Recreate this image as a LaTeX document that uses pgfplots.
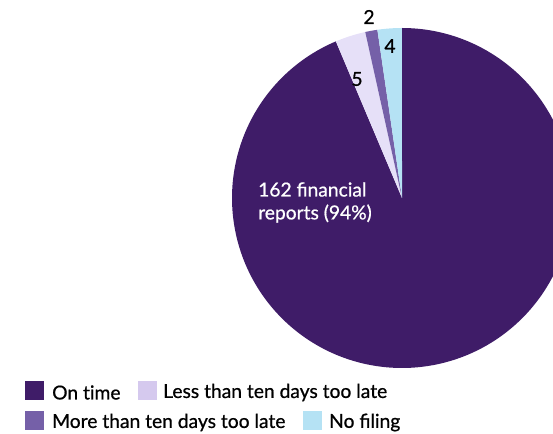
\documentclass[border=0pt]{standalone}
\usepackage{pgfplots}
\pgfplotsset{compat=1.18}
\usepackage{pgfplotstable}
\usepackage{fontspec}
\setmainfont{Lato}[UprightFeatures={FakeBold=0.7}]
\definecolor{ontime}{HTML}{3F1C68}
\definecolor{less}{HTML}{E6E0F8}
\definecolor{lessleg}{HTML}{D5C9EE}
\definecolor{more}{HTML}{7560A8}
\definecolor{nofil}{HTML}{B5E2F4}
% values: on time, less than ten days, more than ten days, no filing
\def\vA{162}\def\vB{5}\def\vC{2}\def\vD{4}
\pgfmathsetmacro\tot{\vA+\vB+\vC+\vD}
\pgfmathsetmacro\aA{90}
\pgfmathsetmacro\aB{\aA-360*(\vA/\tot)}
\pgfmathsetmacro\aC{\aB-360*(\vB/\tot)}
\pgfmathsetmacro\aD{\aC-360*(\vC/\tot)}
\pgfmathsetmacro\aE{\aD-360*(\vD/\tot)}
\pgfmathsetmacro\aCp{\aC+360}
\pgfmathsetmacro\aBp{\aB+360}
\pgfmathsetmacro\aDp{\aD+360}
\pgfmathsetmacro\aEp{\aE+360}
\def\cx{402}\def\cy{236}\def\r{170}
\newcommand\lf{\fontsize{19.3}{23}\selectfont}
\begin{document}
\begin{tikzpicture}
\begin{axis}[
  scale only axis, width=553bp, height=434bp,
  xmin=0, xmax=553, ymin=0, ymax=434,
  hide axis, clip=true,
]
\path (rel axis cs:0,0) rectangle (rel axis cs:1,1);
\addplot[fill=ontime, draw=none, domain=\aB:\aA, samples=300, variable=\t]
  ({\cx+\r*cos(\t)},{\cy+\r*sin(\t)}) -- (axis cs:\cx,\cy) -- cycle;
\addplot[fill=less, draw=none, domain=\aCp:\aBp, samples=30, variable=\t]
  ({\cx+\r*cos(\t)},{\cy+\r*sin(\t)}) -- (axis cs:\cx,\cy) -- cycle;
\addplot[fill=more, draw=none, domain=\aDp:\aCp, samples=20, variable=\t]
  ({\cx+\r*cos(\t)},{\cy+\r*sin(\t)}) -- (axis cs:\cx,\cy) -- cycle;
\addplot[fill=nofil, draw=none, domain=\aEp:\aDp, samples=20, variable=\t]
  ({\cx+\r*cos(\t)},{\cy+\r*sin(\t)}) -- (axis cs:\cx,\cy) -- cycle;
\node[text=white, font=\lf, align=left, anchor=west, inner sep=0pt] at (axis cs:258,231.5) {162 financial\\reports (94\%)};
\node[font=\lf, inner sep=0pt] at (axis cs:357,355) {5};
\node[font=\lf, inner sep=0pt] at (axis cs:369,417) {2};
\node[font=\lf, inner sep=0pt] at (axis cs:390,388) {4};
% legend
\fill[ontime] (axis cs:25,34) rectangle (axis cs:44,53);
\node[anchor=west, font=\lf, inner sep=0pt] at (axis cs:52,41.5) {On t\hbox{}ime};
\fill[lessleg] (axis cs:138,34) rectangle (axis cs:157,53);
\node[anchor=west, font=\lf, inner sep=0pt] at (axis cs:163,41.5) {Less than ten days too late};
\fill[more] (axis cs:25,4) rectangle (axis cs:44,23);
\node[anchor=west, font=\lf, inner sep=0pt] at (axis cs:52,11.5) {More than ten days too late};
\fill[nofil] (axis cs:303,4) rectangle (axis cs:322,23);
\node[anchor=west, font=\lf, inner sep=0pt] at (axis cs:329,11.5) {No filing};
\end{axis}
\end{tikzpicture}
\end{document}
